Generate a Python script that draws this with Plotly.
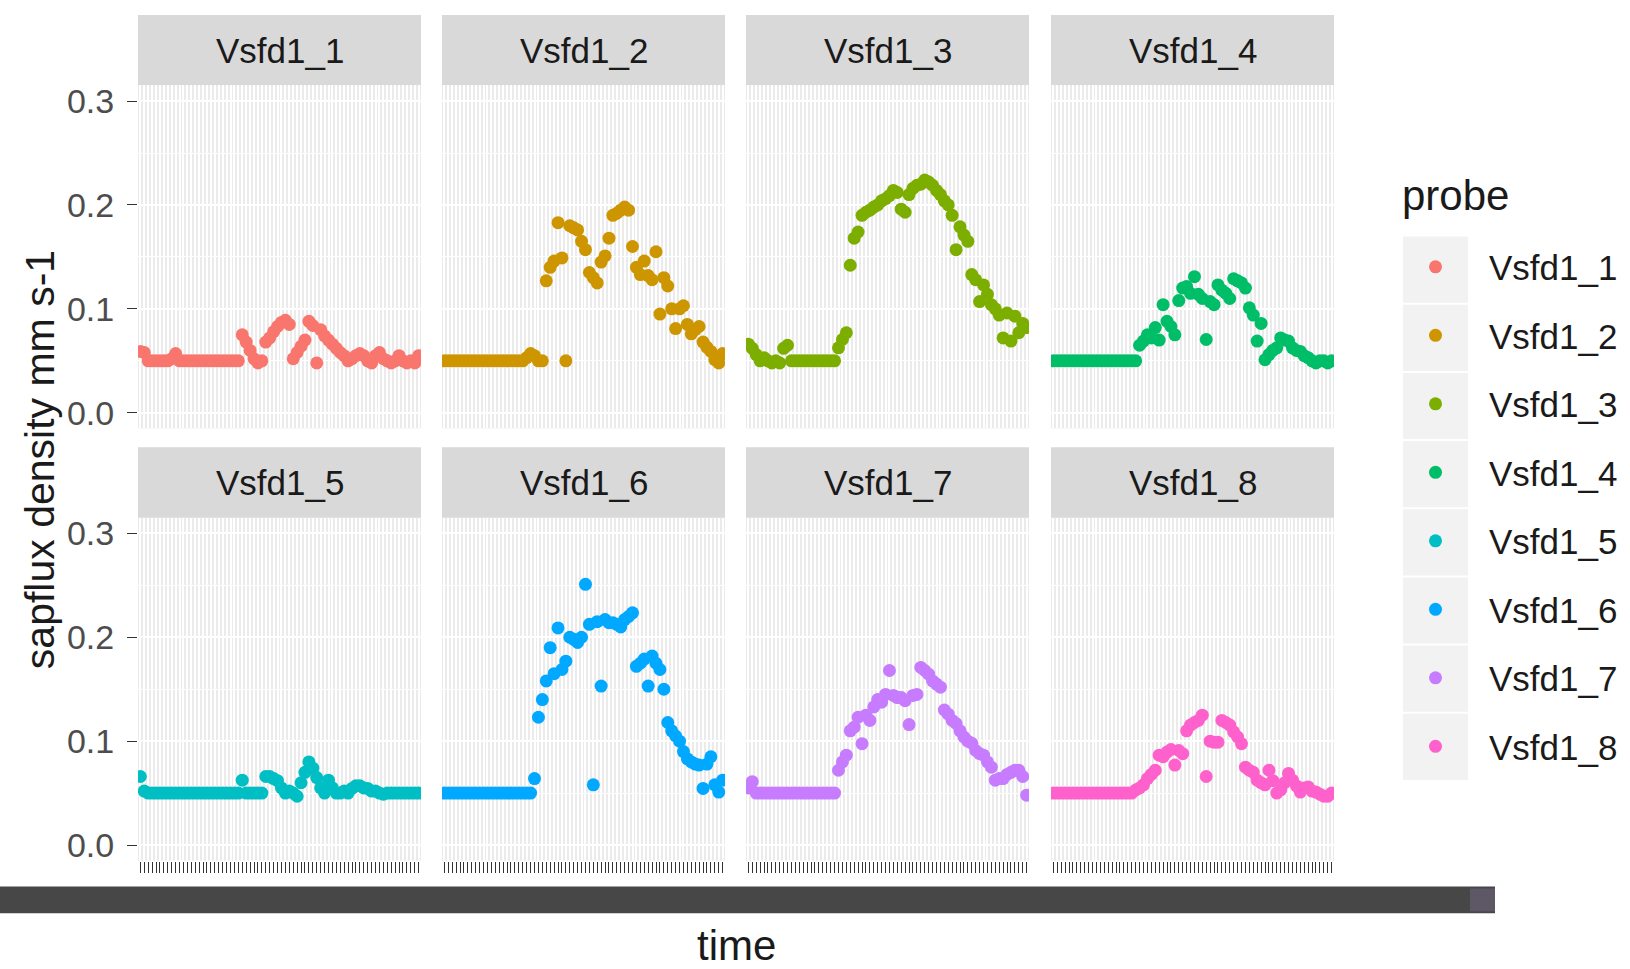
import plotly.graph_objects as go
import pandas as pd

probes = ["Vsfd1_1", "Vsfd1_2", "Vsfd1_3", "Vsfd1_4", "Vsfd1_5", "Vsfd1_6", "Vsfd1_7", "Vsfd1_8"]
colors = ["#F8766D", "#CD9600", "#7CAE00", "#00BE67", "#00BFC4", "#00A9FF", "#C77CFF", "#FF61CC"]

# 72 time stamps (categorical x axis)
time_labels = [t.strftime("%Y-%m-%d %H:%M:%S") for t in pd.date_range("2019-07-15 00:00", periods=72, freq="20min")]

v1 = [0.059, 0.058, 0.050, 0.050, 0.050, 0.050, 0.050, 0.050, 0.052, 0.057, 0.050, 0.050,
      0.050, 0.050, 0.050, 0.050, 0.050, 0.050, 0.050, 0.050, 0.050, 0.050, 0.050, 0.050,
      0.050, 0.050, 0.075, 0.068, 0.060, 0.052, 0.048, 0.050, 0.068, 0.072, 0.078, 0.083,
      0.087, 0.089, 0.085, 0.052, 0.058, 0.064, 0.070, 0.088, 0.084, 0.048, 0.080, 0.074,
      0.070, 0.066, 0.062, 0.058, 0.055, 0.050, 0.052, 0.055, 0.057, 0.055, 0.050, 0.048,
      0.055, 0.058, 0.052, 0.050, 0.048, 0.050, 0.055, 0.050, 0.048, 0.050, 0.048, 0.055]
v2 = [0.050, 0.050, 0.050, 0.050, 0.050, 0.050, 0.050, 0.050, 0.050, 0.050, 0.050, 0.050,
      0.050, 0.050, 0.050, 0.050, 0.050, 0.050, 0.050, 0.050, 0.050, 0.053, 0.057, 0.055,
      0.050, 0.050, 0.127, 0.140, 0.146, 0.183, 0.149, 0.050, 0.180, 0.178, 0.176, 0.165,
      0.157, 0.135, 0.130, 0.125, 0.145, 0.151, 0.168, 0.190, 0.192, 0.195, 0.198, 0.195,
      0.160, 0.140, 0.133, 0.146, 0.132, 0.128, 0.155, 0.095, 0.130, 0.122, 0.100, 0.081,
      0.100, 0.103, 0.085, 0.076, 0.080, 0.083, 0.068, 0.063, 0.059, 0.051, 0.048, 0.057]
v3 = [0.066, 0.062, 0.056, 0.050, 0.053, 0.050, 0.048, 0.050, 0.048, 0.062, 0.065, 0.050,
      0.050, 0.050, 0.050, 0.050, 0.050, 0.050, 0.050, 0.050, 0.050, 0.050, 0.050, 0.0625,
      0.0705, 0.077, 0.142, 0.168, 0.174, 0.190, 0.193, 0.195, 0.198, 0.200, 0.204, 0.206,
      0.209, 0.214, 0.212, 0.196, 0.193, 0.210, 0.216, 0.219, 0.220, 0.224, 0.222, 0.219,
      0.214, 0.210, 0.204, 0.200, 0.190, 0.157, 0.179, 0.171, 0.165, 0.133, 0.128, 0.107,
      0.123, 0.114, 0.104, 0.100, 0.094, 0.072, 0.096, 0.069, 0.093, 0.077, 0.086, 0.082]
v4 = [0.050, 0.050, 0.050, 0.050, 0.050, 0.050, 0.050, 0.050, 0.050, 0.050, 0.050, 0.050,
      0.050, 0.050, 0.050, 0.050, 0.050, 0.050, 0.050, 0.050, 0.050, 0.050, 0.065, 0.069,
      0.075, 0.072, 0.082, 0.070, 0.104, 0.088, 0.083, 0.075, 0.108, 0.120, 0.1215, 0.115,
      0.131, 0.114, 0.110, 0.0705, 0.107, 0.104, 0.123, 0.118, 0.115, 0.110, 0.129, 0.127,
      0.125, 0.120, 0.101, 0.094, 0.069, 0.086, 0.051, 0.056, 0.060, 0.0625, 0.072, 0.070,
      0.069, 0.0625, 0.060, 0.059, 0.055, 0.053, 0.050, 0.048, 0.050, 0.050, 0.048, 0.050]
v5 = [0.066, 0.052, 0.050, 0.050, 0.050, 0.050, 0.050, 0.050, 0.050, 0.050, 0.050, 0.050,
      0.050, 0.050, 0.050, 0.050, 0.050, 0.050, 0.050, 0.050, 0.050, 0.050, 0.050, 0.050,
      0.050, 0.050, 0.0625, 0.050, 0.050, 0.050, 0.050, 0.050, 0.066, 0.066, 0.064, 0.062,
      0.055, 0.050, 0.052, 0.050, 0.047, 0.060, 0.070, 0.080, 0.074, 0.065, 0.055, 0.050,
      0.0625, 0.055, 0.050, 0.050, 0.052, 0.050, 0.0545, 0.057, 0.057, 0.055, 0.0545, 0.052,
      0.052, 0.050, 0.049, 0.050, 0.050, 0.050, 0.050, 0.050, 0.050, 0.050, 0.050, 0.050]
v6 = [0.050, 0.050, 0.050, 0.050, 0.050, 0.050, 0.050, 0.050, 0.050, 0.050, 0.050, 0.050,
      0.050, 0.050, 0.050, 0.050, 0.050, 0.050, 0.050, 0.050, 0.050, 0.050, 0.050, 0.064,
      0.123, 0.140, 0.158, 0.190, 0.165, 0.209, 0.169, 0.177, 0.200, 0.198, 0.195, 0.200,
      0.251, 0.2125, 0.058, 0.215, 0.153, 0.217, 0.214, 0.214, 0.2125, 0.210, 0.217, 0.220,
      0.2235, 0.172, 0.175, 0.179, 0.153, 0.182, 0.175, 0.169, 0.150, 0.118, 0.110, 0.105,
      0.100, 0.090, 0.083, 0.080, 0.078, 0.077, 0.0545, 0.078, 0.085, 0.058, 0.051, 0.0625]
v7 = [0.055, 0.061, 0.050, 0.050, 0.050, 0.050, 0.050, 0.050, 0.050, 0.050, 0.050, 0.050,
      0.050, 0.050, 0.050, 0.050, 0.050, 0.050, 0.050, 0.050, 0.050, 0.050, 0.050, 0.072,
      0.080, 0.0865, 0.110, 0.1135, 0.123, 0.0976, 0.125, 0.120, 0.133, 0.140, 0.1375, 0.145,
      0.168, 0.144, 0.142, 0.142, 0.139, 0.116, 0.144, 0.145, 0.171, 0.168, 0.1645, 0.158,
      0.155, 0.152, 0.130, 0.126, 0.120, 0.117, 0.110, 0.104, 0.100, 0.098, 0.091, 0.088,
      0.0865, 0.080, 0.075, 0.0625, 0.064, 0.064, 0.068, 0.070, 0.072, 0.072, 0.066, 0.048]
v8 = [0.050, 0.050, 0.050, 0.050, 0.050, 0.050, 0.050, 0.050, 0.050, 0.050, 0.050, 0.050,
      0.050, 0.050, 0.050, 0.050, 0.050, 0.050, 0.050, 0.050, 0.050, 0.053, 0.055, 0.058,
      0.064, 0.068, 0.072, 0.0865, 0.085, 0.0895, 0.092, 0.077, 0.091, 0.088, 0.110, 0.1155,
      0.118, 0.120, 0.125, 0.066, 0.100, 0.099, 0.099, 0.120, 0.118, 0.1155, 0.109, 0.104,
      0.0976, 0.075, 0.072, 0.070, 0.0625, 0.060, 0.058, 0.072, 0.062, 0.050, 0.053, 0.060,
      0.069, 0.0625, 0.057, 0.051, 0.055, 0.056, 0.052, 0.051, 0.049, 0.047, 0.047, 0.050]
series = [v1, v2, v3, v4, v5, v6, v7, v8]

y_ticks = [0.0, 0.1, 0.2, 0.3]
y_ticktext = ["0.0", "0.1", "0.2", "0.3"]

W, H = 1630, 969
FONT = "Liberation Sans, Arial, sans-serif"
col_px = [(138, 421), (442, 725), (746, 1029), (1051, 1334)]
row_px = [(83, 428), (518, 863)]
strip_h = 71

fig = go.Figure()
layout = dict(
    width=W, height=H,
    margin=dict(l=0, r=0, t=0, b=0),
    paper_bgcolor="white", plot_bgcolor="#EBEBEB",
    font=dict(family=FONT, color="#1A1A1A"),
    showlegend=True,
)
shapes = []
annotations = []

for k, (name, col, vals) in enumerate(zip(probes, colors, series)):
    r, c = divmod(k, 4)
    x0, x1 = col_px[c]
    ytop, ybot = row_px[r]
    ax = "" if k == 0 else str(k + 1)
    fig.add_trace(go.Scatter(
        x=time_labels, y=vals, mode="markers", name=name, legendgroup=name,
        marker=dict(size=13, color=col, line=dict(width=0)),
        xaxis="x" + ax, yaxis="y" + ax, hoverinfo="x+y+name",
    ))
    layout["xaxis" + ax] = dict(
        domain=[x0 / W, x1 / W], anchor="y" + ax, type="category",
        categoryorder="array", categoryarray=time_labels,
        range=[-0.6, len(time_labels) - 0.4],
        tickmode="array", tickvals=time_labels, showticklabels=False,
        ticks="outside" if r == 1 else "", ticklen=11, tickwidth=1.3, tickcolor="#333333",
        showgrid=True, gridcolor="white", gridwidth=1.9, zeroline=False, showline=False,
    )
    layout["yaxis" + ax] = dict(
        domain=[1 - ybot / H, 1 - ytop / H], anchor="x" + ax,
        range=[-0.015, 0.315], tickmode="array", tickvals=y_ticks, ticktext=y_ticktext,
        showticklabels=(c == 0), ticks="outside" if c == 0 else "", ticklen=10,
        tickwidth=1.3, tickcolor="#333333", ticklabelstandoff=6,
        tickfont=dict(family=FONT, size=34, color="#4D4D4D"),
        showgrid=True, gridcolor="white", gridwidth=2, zeroline=False, showline=False,
        minor=dict(tickvals=[0.05, 0.15, 0.25], showgrid=True, gridcolor="white", gridwidth=1),
    )
    # facet strip
    shapes.append(dict(type="rect", xref="x" + ax + " domain", yref="y" + ax + " domain",
                       x0=0, x1=1, y0=1, y1=1 + strip_h / (ybot - ytop),
                       fillcolor="#D9D9D9", line=dict(width=0), layer="below"))
    annotations.append(dict(text=name, xref="x" + ax + " domain", yref="y" + ax + " domain",
                            x=0.5, y=1 + strip_h / 2 / (ybot - ytop), showarrow=False,
                            xanchor="center", yanchor="middle",
                            font=dict(family=FONT, size=35, color="#1A1A1A")))

# legend key backgrounds
key_top, key_h = 234, 68.6
for i in range(len(probes)):
    shapes.append(dict(type="rect", xref="paper", yref="paper",
                       x0=1403 / W, x1=1468 / W,
                       y0=1 - (key_top + (i + 1) * key_h - 1) / H, y1=1 - (key_top + i * key_h + 1) / H,
                       fillcolor="#F2F2F2", line=dict(width=0), layer="below"))

# overlapping x tick labels render as a dark band
shapes.append(dict(type="rect", xref="paper", yref="paper", x0=0, x1=1495 / W,
                   y0=1 - 916 / H, y1=1 - 889 / H, fillcolor="#474747",
                   line=dict(width=0), layer="above"))
shapes.append(dict(type="rect", xref="paper", yref="paper", x0=1470 / W, x1=1495 / W,
                   y0=1 - 914 / H, y1=1 - 891 / H, fillcolor="#5E5866",
                   line=dict(width=0), layer="above"))

annotations.append(dict(text="sapflux density mm s-1", xref="paper", yref="paper",
                        x=40 / W, y=1 - 460 / H, textangle=-90, showarrow=False,
                        xanchor="center", yanchor="middle",
                        font=dict(family=FONT, size=41, color="#1A1A1A")))
annotations.append(dict(text="time", xref="paper", yref="paper",
                        x=736 / W, y=1 - 948 / H, showarrow=False,
                        xanchor="center", yanchor="middle",
                        font=dict(family=FONT, size=42, color="#1A1A1A")))
annotations.append(dict(text="probe", xref="paper", yref="paper",
                        x=1400 / W, y=1 - 194 / H, showarrow=False,
                        xanchor="left", yanchor="middle",
                        font=dict(family=FONT, size=42, color="#1A1A1A")))

layout["shapes"] = shapes
layout["annotations"] = annotations
layout["legend"] = dict(
    font=dict(family=FONT, size=35, color="#1A1A1A"),
    x=1382 / W, y=1 - 236 / H, xanchor="left", yanchor="top",
    bgcolor="rgba(0,0,0,0)", tracegroupgap=20, itemwidth=97,
)
fig.update_layout(**layout)
fig.write_html("out.html")
